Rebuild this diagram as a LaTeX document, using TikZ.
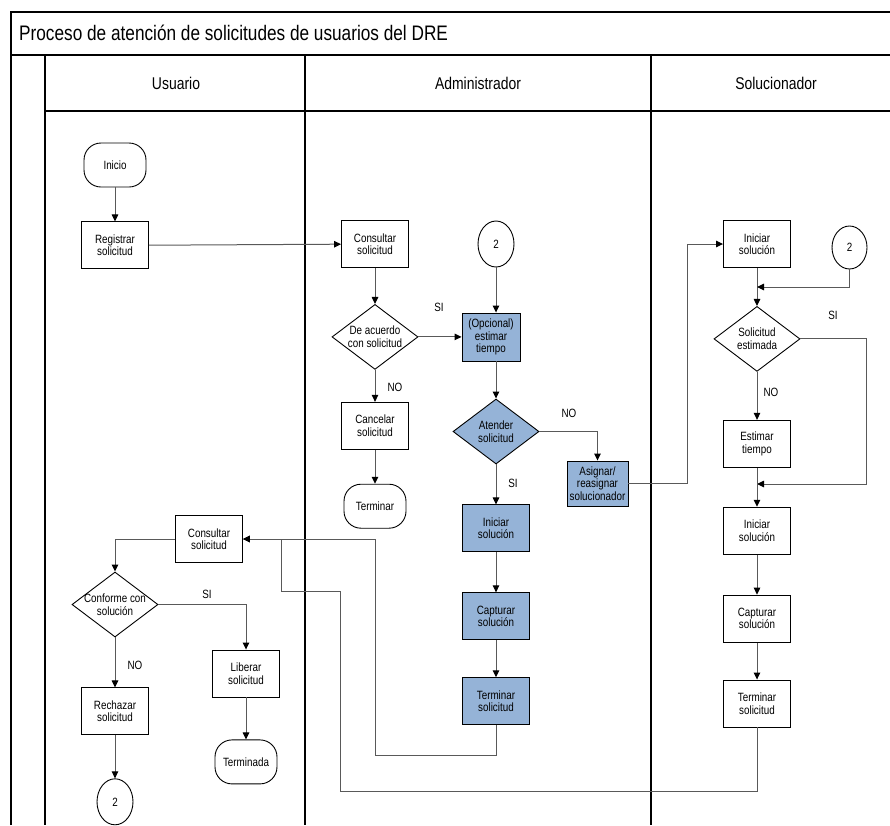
\documentclass[tikz,border=0pt]{standalone}
\usepackage{fontspec}
\setmainfont{Liberation Sans}[FakeStretch=0.82]
\usetikzlibrary{positioning,shapes.geometric,arrows.meta}

\definecolor{procblue}{HTML}{95B3D7}
\newcommand{\procfont}{\fontsize{12}{12.5}\selectfont}
\newcommand{\lanefont}{\fontsize{17}{19}\selectfont}
\newcommand{\ttlfont}{\fontsize{21}{23}\selectfont}

\tikzset{
  proc/.style={draw, line width=0.9pt, fill=white, minimum width=67pt, minimum height=47pt,
    align=center, inner sep=1pt, font=\procfont},
  procb/.style={proc, fill=procblue},
  term/.style={proc, rounded corners=17pt, minimum width=62pt, minimum height=44pt},
  decision/.style={diamond, draw, line width=0.9pt, fill=white, aspect=1.32, inner sep=-3pt,
    minimum width=86pt, minimum height=65pt, align=center, font=\procfont},
  decisionb/.style={decision, fill=procblue},
  conn/.style={ellipse, draw, line width=0.9pt, minimum width=36pt, minimum height=46pt,
    inner sep=0pt, font=\procfont},
  flow/.style={draw=black!65, line width=1pt, -{Triangle[length=7pt,width=6.5pt,color=black]}},
  lane/.style={line width=1.3pt},
  lbl/.style={font=\procfont, inner sep=0pt},
}

\begin{document}
\begin{tikzpicture}[x=1pt,y=-1pt]
\useasboundingbox (0,0) rectangle (890,825);

% swimlanes
\draw[line width=1.2pt] (11,825) -- (11,12) -- (890,12);
\draw[line width=1.6pt] (11,55) -- (890,55);
\draw[line width=1.6pt] (45,111) -- (890,111);
\foreach \lx in {45,305,651}
  \draw[lane] (\lx,55) -- (\lx,825);

\node[anchor=base west, inner sep=0pt, font=\ttlfont] (titulo) at (19,40)
  {Proceso de atención de solicitudes de usuarios del DRE};
\node[anchor=base, font=\lanefont] (hUsuario) at (176,89) {Usuario};
\node[anchor=base, font=\lanefont] (hAdmin) at (478,89) {Administrador};
\node[anchor=base, font=\lanefont] (hSoluc) at (776,89) {Solucionador};

% Usuario
\node[term] (inicio) at (115,165) {Inicio};
\node[proc, below=34pt of inicio] (registrar) {Registrar\\solicitud};
\node[proc] (consultarU) at (209,539) {Consultar\\solicitud};
\node[decision] (conforme) at (115,604.5) {Conforme con\\solución};
\node[proc, below=50pt of conforme] (rechazar) {Rechazar\\solicitud};
\node[conn, below=43pt of rechazar] (dosU) {2};
\node[proc] (liberar) at (246,673.5) {Liberar\\solicitud};
\node[term, below=42pt of liberar] (terminada) {Terminada};

% Administrador
\node[proc] (consultarA) at (375,244) {Consultar\\solicitud};
\node[decision, below=36pt of consultarA] (acuerdo) {De acuerdo\\con solicitud};
\node[proc, below=32pt of acuerdo] (cancelar) {Cancelar\\solicitud};
\node[term, below=34pt of cancelar] (terminar) {Terminar};
\node[conn] (dosA) at (496,244) {2};
\node[procb, minimum width=58pt, minimum height=48pt] (estimarA) at (491,337) {(Opcional)\\estimar\\tiempo};
\node[decisionb] (atender) at (496,431.5) {Atender\\solicitud};
\node[procb, minimum width=61pt, minimum height=45pt] (asignar) at (597.5,483.5) {Asignar/\\reasignar\\solucionador};
\node[procb, below=40pt of atender] (iniciarA) {Iniciar\\solución};
\node[procb, below=40pt of iniciarA] (capturarA) {Capturar\\solución};
\node[procb, below=37pt of capturarA] (terminarA) {Terminar\\solicitud};

% Solucionador
\node[proc] (iniciarS) at (757,244) {Iniciar\\solución};
\node[conn, minimum width=35pt, minimum height=43pt] (dosS) at (849.5,247.5) {2};
\node[decision, below=38pt of iniciarS] (estimada) {Solicitud\\estimada};
\node[proc, below=48pt of estimada] (estimarS) {Estimar\\tiempo};
\node[proc, below=39pt of estimarS] (iniciarS2) {Iniciar\\solución};
\node[proc, below=40pt of iniciarS2] (capturarS) {Capturar\\solución};
\node[proc, below=37pt of capturarS] (terminarS) {Terminar\\solicitud};

% bends
\coordinate (retA) at (375,755);
\coordinate (retB) at (340,791);
\coordinate (retC) at (281,591);
\coordinate (codo) at (687,483.5);
\coordinate (junta) at (757,287);
\coordinate (retS) at (866,484);

% labels
\node[lbl] (siAcuerdo) at (439,307) {SI};
\node[lbl] (noAcuerdo) at (395,387) {NO};
\node[lbl] (noAtender) at (569,413) {NO};
\node[lbl] (siAtender) at (513,483) {SI};
\node[lbl] (siEstimada) at (833,315) {SI};
\node[lbl] (noEstimada) at (771,392) {NO};
\node[lbl] (siConforme) at (207,594) {SI};
\node[lbl] (noConforme) at (135,665) {NO};

% flows
\draw[flow] (inicio) -- (registrar);
\draw[flow] (registrar) -- (consultarA);
\draw[flow] (consultarA) -- (acuerdo);
\draw[flow] (acuerdo.east) -- (acuerdo.east -| estimarA.west);
\draw[flow] (acuerdo) -- (cancelar);
\draw[flow] (cancelar) -- (terminar);
\draw[flow] (dosA) -- (dosA |- estimarA.north);
\draw[flow] (estimarA.south -| atender.north) -- (atender);
\draw[flow] (atender.east) -| (asignar.north);
\draw[flow] (atender) -- (iniciarA);
\draw[flow] (iniciarA) -- (capturarA);
\draw[flow] (capturarA) -- (terminarA);
\draw[flow] (terminarA.south) |- (retA) |- (consultarU.east);

\draw[flow] (asignar.east) -- (codo) |- (iniciarS.west);
\draw[flow] (iniciarS) -- (estimada);
\draw[flow] (dosS.south) |- (junta);
\draw[flow] (estimada) -- (estimarS);
\draw[flow] (estimada.east) -| (retS) -- (retS -| estimarS);
\draw[flow] (estimarS) -- (iniciarS2);
\draw[flow] (iniciarS2) -- (capturarS);
\draw[flow] (capturarS) -- (terminarS);
\draw[flow] (terminarS.south) |- (retB) |- (retC) |- (consultarU.east);

\draw[flow] (consultarU.west) -| (conforme.north);
\draw[flow] (conforme.east) -| (liberar.north);
\draw[flow] (liberar) -- (terminada);
\draw[flow] (conforme) -- (rechazar);
\draw[flow] (rechazar) -- (dosU);
\end{tikzpicture}
\end{document}
